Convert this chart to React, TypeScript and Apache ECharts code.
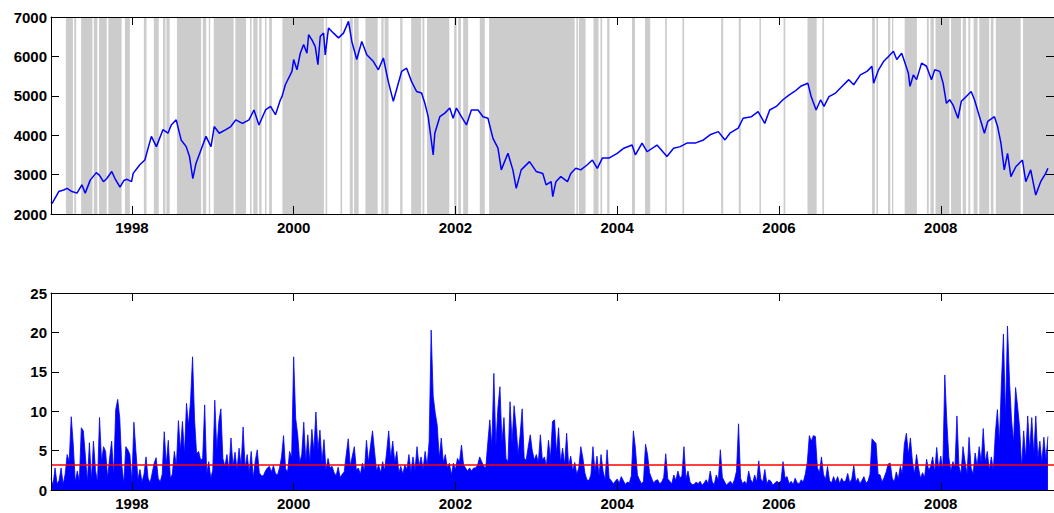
import React, { useEffect, useRef } from "react";
import * as echarts from "echarts";

// ---------- data ----------
const yearTicks = [1998, 2000, 2002, 2004, 2006, 2008];
const xMin = 1997;
const xMax = 2009.4;

// index level, [decimal year, value]
const price: [number, number][] = [
  [1997.0, 2300], [1997.014, 2270], [1997.096, 2570], [1997.157, 2610], [1997.198, 2650],
  [1997.26, 2570], [1997.321, 2530], [1997.382, 2740], [1997.423, 2530], [1997.485, 2860],
  [1997.56, 3050], [1997.6, 2980], [1997.648, 2820], [1997.69, 2900], [1997.751, 3080],
  [1997.791, 2900], [1997.853, 2680], [1997.9, 2850], [1997.94, 2880], [1997.996, 2820],
  [1998.016, 3030], [1998.098, 3250], [1998.16, 3370], [1998.241, 3970], [1998.303, 3710],
  [1998.384, 4140], [1998.446, 4050], [1998.487, 4260], [1998.548, 4390], [1998.609, 3880],
  [1998.671, 3710], [1998.712, 3460], [1998.753, 2900], [1998.793, 3290], [1998.855, 3630],
  [1998.916, 3970], [1998.978, 3710], [1999.018, 4220], [1999.08, 4050], [1999.162, 4140],
  [1999.223, 4220], [1999.284, 4390], [1999.366, 4300], [1999.448, 4390], [1999.509, 4640],
  [1999.571, 4260], [1999.652, 4640], [1999.714, 4730], [1999.775, 4520], [1999.836, 4900],
  [1999.856, 4980], [1999.897, 5280], [1999.979, 5620], [2000.0, 5920], [2000.041, 5660],
  [2000.082, 6080], [2000.123, 6300], [2000.164, 6080], [2000.185, 6550], [2000.226, 6420],
  [2000.267, 6250], [2000.3, 5790], [2000.329, 6510], [2000.37, 6590], [2000.39, 6040],
  [2000.431, 6720], [2000.493, 6590], [2000.554, 6470], [2000.616, 6590], [2000.678, 6890],
  [2000.719, 6380], [2000.78, 5920], [2000.842, 6380], [2000.904, 6040], [2000.986, 5870],
  [2001.047, 5660], [2001.109, 5960], [2001.17, 5360], [2001.232, 4860], [2001.294, 5320],
  [2001.335, 5620], [2001.396, 5700], [2001.458, 5360], [2001.52, 5110], [2001.581, 5070],
  [2001.622, 4810], [2001.663, 4470], [2001.725, 3500], [2001.745, 4050], [2001.807, 4470],
  [2001.869, 4560], [2001.93, 4690], [2001.971, 4430], [2002.012, 4690], [2002.074, 4470],
  [2002.136, 4260], [2002.197, 4640], [2002.279, 4640], [2002.341, 4470], [2002.402, 4430],
  [2002.464, 3920], [2002.526, 3670], [2002.567, 3120], [2002.649, 3540], [2002.71, 3120],
  [2002.752, 2650], [2002.813, 3120], [2002.916, 3330], [2002.998, 3080], [2003.08, 3030],
  [2003.121, 2740], [2003.183, 2820], [2003.203, 2440], [2003.242, 2820], [2003.303, 2950],
  [2003.385, 2820], [2003.426, 3030], [2003.488, 3160], [2003.549, 3120], [2003.631, 3250],
  [2003.693, 3370], [2003.754, 3160], [2003.816, 3420], [2003.898, 3420], [2004.0, 3540],
  [2004.082, 3670], [2004.184, 3750], [2004.225, 3500], [2004.307, 3800], [2004.369, 3580],
  [2004.492, 3750], [2004.615, 3460], [2004.697, 3670], [2004.779, 3710], [2004.861, 3800],
  [2004.963, 3800], [2005.066, 3880], [2005.148, 4010], [2005.25, 4090], [2005.332, 3880],
  [2005.393, 4050], [2005.496, 4180], [2005.557, 4430], [2005.66, 4470], [2005.742, 4600],
  [2005.824, 4300], [2005.885, 4640], [2005.967, 4730], [2006.049, 4900], [2006.131, 5030],
  [2006.193, 5110], [2006.275, 5250], [2006.357, 5320], [2006.398, 4980], [2006.459, 4640],
  [2006.515, 4900], [2006.556, 4730], [2006.618, 4980], [2006.699, 5070], [2006.781, 5240],
  [2006.863, 5410], [2006.924, 5280], [2007.006, 5530], [2007.088, 5620], [2007.149, 5750],
  [2007.17, 5320], [2007.231, 5660], [2007.292, 5870], [2007.354, 6000], [2007.415, 6130],
  [2007.456, 5920], [2007.517, 6080], [2007.558, 5830], [2007.599, 5580], [2007.62, 5240],
  [2007.661, 5530], [2007.701, 5410], [2007.763, 5830], [2007.824, 5750], [2007.885, 5410],
  [2007.926, 5660], [2007.988, 5620], [2008.029, 5320], [2008.07, 4810], [2008.11, 4900],
  [2008.151, 4770], [2008.213, 4430], [2008.254, 4860], [2008.315, 4980], [2008.376, 5110],
  [2008.417, 4900], [2008.479, 4470], [2008.54, 4050], [2008.581, 4350], [2008.663, 4470],
  [2008.703, 4220], [2008.744, 3800], [2008.785, 3120], [2008.826, 3540], [2008.867, 2950],
  [2008.928, 3200], [2009.01, 3370], [2009.051, 2820], [2009.112, 3120], [2009.174, 2480],
  [2009.235, 2820], [2009.297, 3030], [2009.325, 3160],
];

// shaded (grey) periods in decimal years
const shadedPeriods: [number, number][] = [
  [1997.184, 1997.271], [1997.287, 1997.311], [1997.373, 1997.512], [1997.529, 1997.573],
  [1997.594, 1997.689], [1997.709, 1997.873], [1997.914, 1997.975], [1998.148, 1998.181],
  [1998.271, 1998.332], [1998.385, 1998.415], [1998.427, 1998.467], [1998.557, 1998.857],
  [1998.877, 1998.919], [1998.951, 1998.968], [1999.012, 1999.258], [1999.279, 1999.411],
  [1999.46, 1999.48], [1999.501, 1999.554], [1999.574, 1999.603], [1999.645, 1999.664],
  [1999.697, 1999.731], [1999.861, 2000.374], [2000.395, 2000.415], [2000.579, 2000.599],
  [2000.694, 2000.731], [2000.747, 2000.804], [2000.887, 2001.038], [2001.084, 2001.112],
  [2001.124, 2001.173], [2001.317, 2001.346], [2001.453, 2001.576], [2001.592, 2001.616],
  [2001.649, 2001.924], [2001.985, 2002.014], [2002.034, 2002.068], [2002.096, 2002.157],
  [2002.301, 2002.363], [2002.416, 2003.474], [2003.495, 2003.514], [2003.526, 2003.609],
  [2003.707, 2003.769], [2003.793, 2003.814], [2003.876, 2003.904], [2004.183, 2004.22],
  [2004.343, 2004.408], [2004.593, 2004.614], [2004.806, 2004.827], [2005.285, 2005.31],
  [2005.503, 2005.528], [2005.758, 2005.777], [2006.057, 2006.078], [2006.352, 2006.466],
  [2006.536, 2006.557], [2007.151, 2007.185], [2007.204, 2007.225], [2007.348, 2007.376],
  [2007.397, 2007.413], [2007.554, 2007.705], [2007.828, 2007.852], [2007.873, 2007.914],
  [2007.935, 2008.107], [2008.127, 2008.25], [2008.271, 2008.311], [2008.341, 2008.365],
  [2008.406, 2008.455], [2008.476, 2008.599], [2008.619, 2008.652], [2008.68, 2008.988],
  [2009.017, 2009.4],
];

// absolute daily returns, sampled every 1/40 year from 1997.0
const returnsStart = 1997;
const returnsStep = 1 / 40;
const absReturns = [
  1.5, 0.6, 2.8, 0.8, 1.2, 2.8, 0.7, 2.0, 4.5, 3.6, 9.3, 5.8, 1.0, 2.4, 1.1, 7.9, 7.5, 4.3, 1.0, 6.0,
  1.2, 6.2, 2.5, 1.0, 9.2, 3.6, 5.5, 4.9, 1.5, 4.1, 6.2, 1.8, 10.2, 11.5, 9.1, 3.2, 0.8, 5.5, 5.1, 4.5,
  1.0, 8.6, 4.9, 1.3, 2.6, 1.0, 2.0, 4.2, 1.5, 0.9, 2.1, 3.4, 4.1, 1.5, 1.0, 2.0, 7.4, 3.2, 6.3, 1.5,
  2.0, 4.9, 3.0, 8.8, 5.0, 8.7, 4.5, 11.0, 8.2, 11.3, 16.9, 8.9, 4.6, 4.9, 3.8, 4.0, 10.8, 2.0, 3.6, 1.5,
  2.5, 11.4, 5.0, 8.7, 10.3, 4.0, 3.0, 4.5, 2.5, 6.6, 3.0, 4.8, 2.6, 5.3, 3.0, 8.0, 2.8, 4.5, 2.2, 4.9,
  1.5, 3.7, 5.1, 2.2, 1.8, 1.8, 2.4, 2.8, 3.0, 2.3, 3.1, 2.1, 1.9, 2.8, 4.2, 6.9, 2.7, 2.3, 4.9, 4.1,
  16.9, 9.1, 7.0, 3.5, 4.5, 8.6, 3.6, 7.0, 3.5, 7.7, 4.9, 9.9, 5.0, 7.6, 3.5, 6.4, 2.5, 4.0, 2.8, 3.0,
  2.2, 1.8, 2.9, 1.6, 2.0, 2.3, 4.5, 6.5, 3.0, 4.3, 5.5, 2.5, 2.8, 2.0, 3.4, 2.4, 6.3, 3.5, 5.6, 7.5,
  4.9, 2.4, 3.2, 2.2, 3.6, 2.5, 4.9, 7.5, 4.0, 6.2, 3.5, 4.9, 2.2, 3.0, 2.0, 3.2, 2.6, 4.5, 2.3, 4.2,
  2.5, 5.5, 3.0, 4.2, 2.6, 4.9, 3.0, 6.2, 20.3, 11.9, 9.8, 8.2, 4.0, 6.6, 3.5, 4.5, 2.8, 3.4, 1.9, 3.4,
  2.6, 4.0, 3.6, 5.7, 3.2, 2.8, 2.4, 2.8, 2.4, 2.8, 2.8, 3.2, 4.2, 3.6, 3.0, 2.8, 6.0, 8.9, 5.5, 14.8,
  5.5, 10.4, 13.1, 6.0, 9.2, 4.0, 3.6, 11.2, 6.0, 10.7, 8.0, 4.5, 7.0, 10.3, 4.0, 3.8, 5.5, 7.0, 5.0, 3.8,
  4.5, 3.5, 7.0, 3.8, 4.2, 3.0, 6.3, 4.0, 8.7, 8.9, 4.6, 7.9, 3.5, 5.3, 3.2, 7.2, 3.0, 4.3, 2.4, 3.5,
  2.0, 2.8, 5.5, 4.1, 2.2, 1.3, 1.2, 1.9, 5.5, 2.3, 4.3, 1.8, 4.5, 2.4, 1.3, 5.1, 1.5, 1.2, 0.8, 1.1,
  1.4, 0.9, 1.7, 1.2, 0.7, 1.0, 0.9, 1.8, 7.5, 5.3, 1.9, 1.3, 0.8, 1.1, 5.8, 4.5, 2.2, 1.5, 0.9, 1.2,
  1.3, 0.8, 1.0, 1.6, 4.6, 1.4, 1.1, 0.8, 1.9, 1.2, 2.4, 1.5, 1.8, 5.5, 1.4, 2.4, 1.0, 0.7, 0.7, 1.0,
  0.8, 1.1, 0.6, 0.9, 1.3, 0.8, 2.4, 1.0, 0.7, 1.9, 1.2, 5.1, 1.6, 1.1, 0.6, 0.9, 1.1, 0.7, 1.3, 2.4,
  8.4, 1.5, 0.8, 1.1, 0.7, 2.4, 1.3, 0.9, 1.9, 1.0, 3.7, 1.4, 1.0, 2.6, 0.8, 1.3, 1.1, 0.6, 0.9, 1.1,
  0.9, 1.2, 3.6, 1.5, 1.7, 0.8, 1.1, 0.7, 1.5, 0.9, 0.8, 1.3, 1.0, 2.0, 3.5, 6.9, 6.2, 6.9, 6.8, 2.8,
  2.2, 4.2, 2.0, 1.3, 3.0, 1.2, 0.9, 1.7, 1.0, 1.7, 0.8, 1.5, 1.0, 1.2, 2.1, 0.9, 1.4, 3.1, 1.0, 1.5,
  0.8, 1.2, 1.7, 0.9, 1.1, 2.0, 6.5, 6.2, 5.9, 2.0, 1.9, 1.0, 1.6, 2.3, 3.3, 3.4, 1.5, 1.0, 2.3, 1.4,
  3.0, 2.0, 5.8, 7.2, 4.5, 6.6, 3.6, 2.0, 4.5, 2.8, 1.5, 2.2, 1.6, 3.9, 2.5, 3.0, 4.2, 2.3, 5.4, 2.6,
  4.3, 2.5, 14.6, 8.7, 4.1, 2.4, 3.6, 2.8, 9.4, 3.0, 2.0, 5.5, 3.6, 2.0, 6.7, 2.8, 2.0, 4.7, 3.0, 5.5,
  3.5, 7.8, 3.5, 4.9, 2.5, 4.2, 2.5, 7.2, 10.2, 6.0, 13.7, 19.8, 9.0, 20.8, 13.8, 8.9, 6.0, 13.0, 10.6, 7.9,
  2.8, 7.5, 4.0, 9.4, 5.0, 9.2, 4.5, 9.4, 4.0, 6.2, 3.5, 6.7, 3.8, 6.8,
];
const threshold = 3.2;

// ---------- chart ----------
const FONT = "Liberation Sans";
const labelStyle = {
  fontSize: 15,
  fontWeight: "bold" as const,
  color: "#000",
  fontFamily: FONT,
};

function xAxis(gridIndex: number, position: "top" | "bottom", showLabel: boolean) {
  return {
    type: "value" as const,
    gridIndex,
    position,
    min: xMin,
    max: xMax,
    z: 10,
    splitLine: { show: false },
    axisLine: { show: true, onZero: false, lineStyle: { color: "#000", width: 1 } },
    axisTick: {
      show: true,
      inside: true,
      length: 8,
      customValues: yearTicks,
      lineStyle: { color: "#000", width: 1 },
    },
    axisLabel: {
      show: showLabel,
      customValues: yearTicks,
      margin: 6,
      formatter: (v: number) => String(Math.round(v)),
      ...labelStyle,
    },
  };
}

function yAxis(
  gridIndex: number,
  position: "left" | "right",
  min: number,
  max: number,
  interval: number
) {
  return {
    type: "value" as const,
    gridIndex,
    position,
    min,
    max,
    interval,
    z: 10,
    splitLine: { show: false },
    axisLine: { show: true, onZero: false, lineStyle: { color: "#000", width: 1 } },
    axisTick: { show: true, inside: true, length: 8, lineStyle: { color: "#000", width: 1 } },
    axisLabel: {
      show: position === "left",
      margin: 4,
      formatter: (v: number) => String(v),
      ...labelStyle,
    },
  };
}

export default function App() {
  const ref = useRef<HTMLDivElement>(null);

  useEffect(() => {
    if (!ref.current) return;
    const chart = echarts.init(ref.current, undefined, { renderer: "svg" });

    const returnData = absReturns.map((v, i) => [returnsStart + i * returnsStep, v]);

    chart.setOption({
      animation: false,
      backgroundColor: "#fff",
      grid: [
        { left: 51, top: 17, width: 1008, height: 197 },
        { left: 51, top: 293, width: 1008, height: 197 },
      ],
      xAxis: [
        xAxis(0, "bottom", true),
        xAxis(0, "top", false),
        xAxis(1, "bottom", true),
        xAxis(1, "top", false),
      ],
      yAxis: [
        yAxis(0, "left", 2000, 7000, 1000),
        yAxis(0, "right", 2000, 7000, 1000),
        yAxis(1, "left", 0, 25, 5),
        yAxis(1, "right", 0, 25, 5),
      ],
      series: [
        {
          type: "line",
          name: "index",
          xAxisIndex: 0,
          yAxisIndex: 0,
          data: price,
          showSymbol: false,
          symbol: "none",
          z: 3,
          lineStyle: { color: "#0000ff", width: 1.5 },
          markArea: {
            silent: true,
            z: 1,
            itemStyle: { color: "#cccccc", opacity: 1, borderWidth: 0 },
            label: { show: false },
            data: shadedPeriods.map(([s, e]) => [{ xAxis: s }, { xAxis: e }]),
          },
        },
        {
          type: "line",
          name: "abs returns",
          xAxisIndex: 2,
          yAxisIndex: 2,
          data: returnData,
          showSymbol: false,
          symbol: "none",
          z: 3,
          lineStyle: { color: "#0000ff", width: 0.8 },
          areaStyle: { color: "#0000ff", opacity: 1 },
          markLine: {
            silent: true,
            symbol: "none",
            label: { show: false },
            lineStyle: { color: "#ff0000", width: 1.5, type: "solid" },
            data: [{ yAxis: threshold }],
          },
        },
      ],
    });

    return () => chart.dispose();
  }, []);

  return (
    <div
      ref={ref}
      style={{ position: "fixed", left: 0, top: 0, width: 1054, height: 513 }}
    />
  );
}
